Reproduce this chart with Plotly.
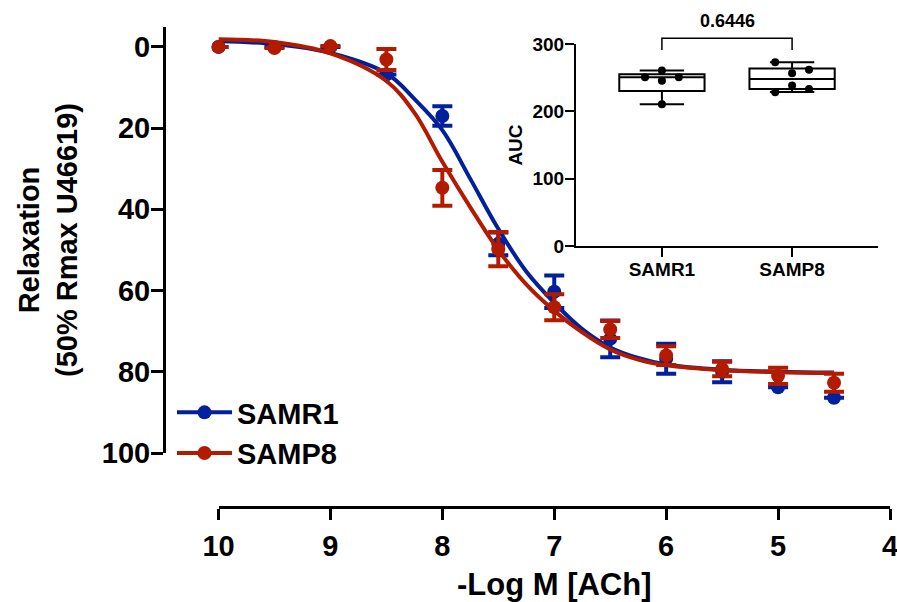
import plotly.graph_objects as go

# ---------------- data ----------------
conc = [10, 9.5, 9, 8.5, 8, 7.5, 7, 6.5, 6, 5.5, 5, 4.5]
samr1_mean = [0.0, 0.0, 0.0, 6.8, 17.0, 48.5, 60.3, 71.9, 76.8, 80.0, 83.8, 86.4]
samr1_sem = [None, None, None, None, 2.4, 2.8, 4.0, 4.5, 3.7, 2.6, None, None]
samp8_mean = [0.0, 0.3, -0.2, 3.1, 34.7, 49.8, 64.1, 69.6, 76.0, 79.3, 81.0, 82.7]
samp8_sem = [None, None, None, 2.6, 4.4, 4.2, 3.2, 2.1, 2.3, 1.8, 2.0, 2.2]

fit_x = [10, 9.5, 9, 8.5, 8.25, 8, 7.75, 7.5, 7.25, 7, 6.75, 6.5, 6.25, 6, 5.5, 5, 4.5]
samr1_fit = [-1.4, -0.7, 1.5, 6.5, 12.8, 20.5, 32.5, 44.8, 55.3, 63.0, 69.5, 74.0, 76.6, 78.2, 79.5, 80.0, 80.2]
samp8_fit = [-1.9, -1.2, 1.6, 8.4, 16.2, 28.3, 39.5, 50.0, 58.5, 65.0, 70.3, 74.5, 77.0, 78.4, 79.6, 80.1, 80.3]

x_ticks = [10, 9, 8, 7, 6, 5, 4]
y_ticks = [0, 20, 40, 60, 80, 100]

groups = ["SAMR1", "SAMP8"]
samr1_auc = [260.5, 250.6, 250.6, 245.6, 210.5]
samp8_auc = [272.9, 256.7, 261.6, 238.2, 233.3, 228.4]
box_q1 = [230.3, 233.3]
box_median = [250.6, 248.1]
box_q3 = [255.1, 263.5]
box_min = [210.5, 228.6]
box_max = [260.5, 272.9]
auc_ticks = [0, 100, 200, 300]
p_value = "0.6446"

# ---------------- styles ----------------
W, H = 897, 602
BLUE = "#00209C"
RED = "#B31B00"
FONT = "Arial, Liberation Sans, sans-serif"
samr1_offsets = [0, -0.13, 0.13, 0, 0]
samp8_offsets = [-0.13, 0, 0.13, 0, 0.13, -0.13]


def px(x):
    return x / W


def py(y):
    return 1 - y / H


fig = go.Figure()

# fitted curves and points
for name, mean, sem, fit, col in [
    ("SAMR1", samr1_mean, samr1_sem, samr1_fit, BLUE),
    ("SAMP8", samp8_mean, samp8_sem, samp8_fit, RED),
]:
    fig.add_trace(go.Scatter(
        x=fit_x, y=fit, mode="lines", line=dict(color=col, width=4, shape="spline"),
        showlegend=False, hoverinfo="skip"))
    fig.add_trace(go.Scatter(
        x=conc, y=mean, mode="markers", marker=dict(color=col, size=14),
        error_y=dict(type="data", array=sem, color=col, thickness=4, width=10),
        cliponaxis=False, showlegend=False, name=name))
    fig.add_trace(go.Scatter(
        x=[None], y=[None], mode="lines+markers", name=name,
        line=dict(color=col, width=4), marker=dict(color=col, size=14)))

# inset box plot
fig.add_trace(go.Box(
    x=[0, 1], q1=box_q1, median=box_median, q3=box_q3,
    lowerfence=box_min, upperfence=box_max, orientation="v",
    width=0.655, whiskerwidth=0.52, fillcolor="white",
    line=dict(color="black", width=2), boxpoints=False,
    xaxis="x2", yaxis="y2", showlegend=False, hoverinfo="skip"))
pts_x = [0 + o for o in samr1_offsets] + [1 + o for o in samp8_offsets]
pts_y = samr1_auc + samp8_auc
fig.add_trace(go.Scatter(
    x=pts_x, y=pts_y, mode="markers", marker=dict(color="black", size=8),
    xaxis="x2", yaxis="y2", showlegend=False, cliponaxis=False))

tickfont_main = dict(family=FONT, size=29, color="black", weight="bold")
tickfont_in = dict(family=FONT, size=19, color="black", weight="bold")

fig.update_layout(
    template="none",
    width=W, height=H,
    margin=dict(l=0, r=0, t=0, b=0),
    paper_bgcolor="white", plot_bgcolor="rgba(0,0,0,0)",
    font=dict(family=FONT, color="black"),
    xaxis=dict(
        range=[10, 4], domain=[px(218.5), px(890)], anchor="free", position=py(507),
        tickvals=x_ticks, showline=True, linewidth=3, linecolor="black",
        ticks="outside", ticklen=11, tickwidth=3, tickcolor="black",
        showgrid=False, zeroline=False, tickfont=tickfont_main, automargin=False,
        ticklabelstandoff=1, ticklabeloverflow="allow",
        title=dict(text="-Log M [ACh]", font=dict(family=FONT, size=31, weight="bold"), standoff=12),
    ),
    yaxis=dict(
        range=[100, -4.9], domain=[py(453), py(27)], anchor="free", position=px(164),
        tickvals=y_ticks, showline=True, linewidth=3, linecolor="black",
        ticks="outside", ticklen=12, tickwidth=3, tickcolor="black",
        showgrid=False, zeroline=False, tickfont=tickfont_main, automargin=False,
        ticklabelstandoff=-5,
        title=dict(text="Relaxation<br>(50% Rmax U46619)",
                   font=dict(family=FONT, size=29, weight="bold"), standoff=14),
    ),
    xaxis2=dict(
        range=[-0.66, 1.66], domain=[px(576), px(878)], anchor="y2",
        tickvals=[0, 1], ticktext=groups, showline=True, linewidth=2, linecolor="black",
        ticks="outside", ticklen=9, tickwidth=2, tickcolor="black",
        showgrid=False, zeroline=False, tickfont=tickfont_in, automargin=False,
        ticklabelstandoff=-4,
    ),
    yaxis2=dict(
        range=[0, 300], domain=[py(246), py(44)], anchor="x2",
        tickvals=auc_ticks, showline=True, linewidth=2, linecolor="black",
        ticks="outside", ticklen=9, tickwidth=2, tickcolor="black",
        showgrid=False, zeroline=False, tickfont=tickfont_in, automargin=False,
        ticklabelstandoff=-3,
        title=dict(text="AUC", font=dict(family=FONT, size=19, weight="bold"), standoff=5),
    ),
    legend=dict(
        x=px(172), y=py(387), xanchor="left", yanchor="top",
        font=dict(family=FONT, size=29, color="black", weight="bold"),
        bgcolor="rgba(0,0,0,0)", borderwidth=0, itemwidth=55,
    ),
    showlegend=True,
)

# significance bracket above the inset boxes
ymax = auc_ticks[-1]
bar_top = 308.6 / ymax
leg_bottom = 291.0 / ymax
fig.add_shape(type="path", xref="x2", yref="y2 domain",
              path=f"M 0 {leg_bottom} L 0 {bar_top} L 1 {bar_top} L 1 {leg_bottom}",
              line=dict(color="black", width=1.5))
fig.add_annotation(x=0.5, xref="x2", y=bar_top + 0.025, yref="y2 domain",
                   text=p_value, showarrow=False, yanchor="bottom",
                   font=dict(family=FONT, size=18, color="black", weight="bold"))

fig.write_html("out.html", config={"displayModeBar": False},
               post_script="document.body.style.margin='0px';")
